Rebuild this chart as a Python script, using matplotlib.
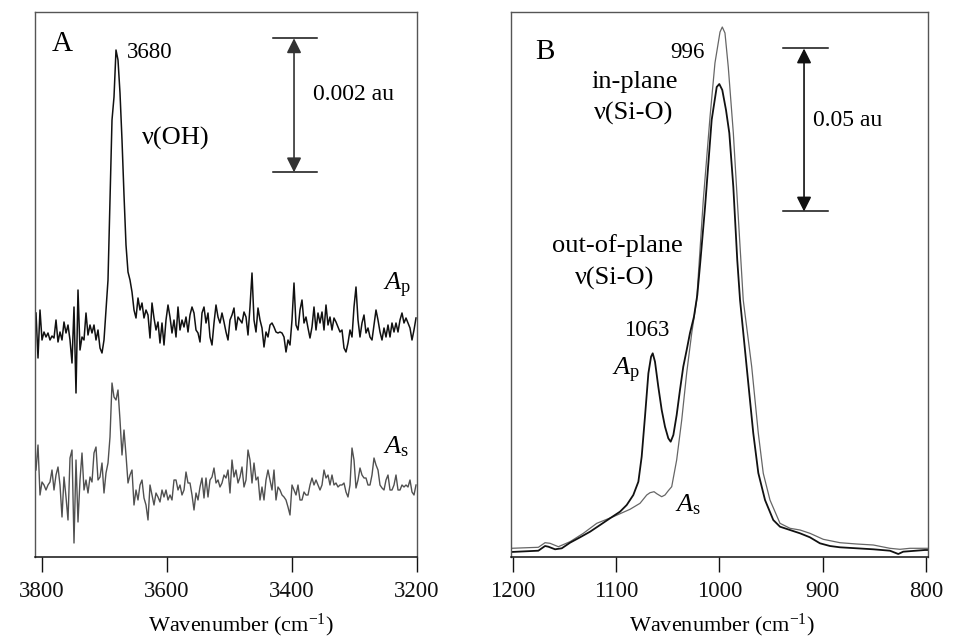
import numpy as np
import matplotlib
matplotlib.use("Agg")
import matplotlib.pyplot as plt

plt.rcParams['font.family'] = ['Liberation Serif', 'DejaVu Serif']
plt.rcParams['mathtext.fontset'] = 'custom'
plt.rcParams['mathtext.rm'] = 'Liberation Serif'
plt.rcParams['mathtext.it'] = 'Liberation Serif:italic'

# ---------------- Panel A : nu(OH) region ----------------
# relative absorbance (1 unit = 0.002/134 au)
AU_PER_UNIT_A = 0.002 / 134
oh_Ap = [244, 199, 247, 217, 225, 220, 224, 217, 221, 219, 237, 215, 225, 217, 235, 224, 232, 217,
         194, 250, 164, 267, 207, 220, 217, 244, 222, 232, 224, 232, 217, 227, 209, 204, 217, 247,
         277, 357, 437, 460, 507, 497, 464, 417, 362, 312, 285, 277, 265, 247, 239, 259, 247, 254,
         239, 247, 242, 219, 254, 239, 227, 235, 214, 234, 212, 237, 252, 240, 224, 237, 220, 250,
         227, 237, 230, 240, 225, 242, 250, 244, 227, 224, 215, 244, 250, 234, 244, 220, 212, 234,
         252, 240, 234, 244, 235, 225, 217, 237, 242, 249, 227, 240, 237, 234, 245, 240, 222, 250,
         284, 237, 225, 249, 237, 229, 210, 225, 220, 232, 234, 230, 225, 224, 225, 224, 220, 205,
         217, 212, 237, 274, 232, 227, 247, 257, 234, 240, 229, 219, 230, 250, 227, 244, 234, 245,
         227, 252, 232, 240, 227, 239, 235, 230, 225, 227, 209, 205, 214, 227, 220, 250, 270, 237,
         220, 234, 242, 224, 229, 220, 217, 232, 247, 237, 225, 217, 229, 220, 232, 220, 234, 225,
         234, 225, 237, 244, 234, 239, 234, 229, 217, 227, 239]
oh_As = [87, 112, 62, 75, 72, 67, 72, 75, 87, 67, 82, 90, 72, 40, 80, 60, 37, 99,
         107, 14, 97, 35, 77, 104, 67, 77, 64, 80, 75, 104, 110, 77, 80, 94, 64, 84,
         94, 120, 174, 160, 157, 167, 137, 102, 127, 102, 74, 82, 87, 52, 67, 57, 72, 77,
         59, 52, 37, 72, 62, 52, 64, 60, 55, 67, 60, 67, 57, 62, 57, 77, 77, 67,
         72, 62, 67, 85, 74, 74, 62, 47, 64, 57, 70, 79, 59, 79, 60, 77, 80, 89,
         74, 77, 70, 74, 82, 79, 87, 64, 97, 80, 87, 74, 80, 90, 70, 77, 107, 97,
         74, 94, 77, 80, 57, 70, 57, 77, 87, 77, 67, 87, 57, 70, 67, 62, 60, 57,
         50, 42, 72, 67, 62, 72, 57, 57, 65, 62, 62, 72, 79, 72, 77, 72, 67, 72,
         87, 79, 82, 72, 82, 72, 74, 70, 72, 72, 74, 65, 60, 72, 109, 97, 69, 77,
         89, 82, 79, 79, 72, 72, 82, 99, 92, 87, 72, 69, 67, 77, 82, 67, 67, 72,
         82, 67, 67, 72, 70, 72, 70, 77, 65, 62, 72]
oh_wn = np.linspace(3809.4, 3201.6, len(oh_Ap))
oh_wn_s = np.linspace(3809.4, 3201.6, len(oh_As))

# ---------------- Panel B : nu(Si-O) region ----------------
AU_PER_UNIT_B = 0.05 / 163
sio_wn_Ap = [1201.9, 1175.5, 1169.0, 1165.8, 1159.3, 1152.8, 1144.8, 1135.1, 1125.4, 1115.7,
             1106.1, 1096.4, 1089.9, 1083.5, 1078.6, 1075.4, 1072.2, 1068.9, 1066.3, 1064.7,
             1062.5, 1059.3, 1056.0, 1052.8, 1049.6, 1047.3, 1044.7, 1041.5, 1038.3, 1035.1,
             1031.6, 1028.6, 1024.8, 1021.5, 1018.6, 1014.0, 1007.6, 1002.7, 1000.2, 997.3,
             993.7, 990.5, 986.6, 982.8, 980.1, 973.7, 967.3, 962.4, 955.9, 947.9,
             941.4, 931.7, 922.0, 912.4, 902.7, 893.0, 883.3, 867.1, 851.0, 834.9,
             826.8, 822.0, 801.0, 798.1]
sio_Ap = [5, 6.3, 11, 10.3, 7.7, 8.7, 14.3, 19.7, 25.3, 32,
          38.7, 45.3, 52, 62, 75.3, 100.3, 140.3, 183.7, 200.3, 203.7,
          195.3, 170.3, 147, 130.3, 118.7, 115.3, 122, 142, 167, 190.3,
          208, 224, 240, 262, 295, 350, 437, 470, 473, 467,
          447, 424, 370, 297, 257, 190.3, 124, 84, 57, 37,
          30.3, 27, 23.7, 19.7, 13.7, 11, 9.7, 8.7, 7.7, 6.3,
          3, 5.3, 7, 7]
sio_wn_As = [1201.9, 1175.5, 1169.0, 1164.2, 1156.1, 1144.8, 1131.9, 1118.9, 1102.9, 1086.7,
             1077.0, 1070.5, 1067.3, 1063.4, 1060.8, 1056.0, 1052.8, 1049.6, 1046.3, 1041.5,
             1036.6, 1031.8, 1026.9, 1022.1, 1015.7, 1009.2, 1004.4, 999.5, 997.3, 994.7,
             991.5, 986.6, 981.8, 977.0, 968.8, 962.4, 957.6, 951.1, 941.4, 931.7,
             922.0, 912.4, 899.5, 883.3, 867.1, 851.0, 834.9, 825.2, 815.5, 801.0, 798.1]
sio_As = [8.7, 9.7, 14.3, 13.7, 10.3, 15.3, 23.7, 33.7, 40.3, 47.7,
          53.7, 62, 64.3, 65.3, 63.3, 60.3, 62, 66.3, 70.3, 97,
          137, 184, 224, 257, 357, 440, 494, 525, 530, 524,
          490, 424, 340, 257, 190.3, 123.7, 83.7, 57, 33.7, 28.7,
          27, 23.7, 17.7, 14.3, 13, 12, 8.7, 7.7, 8.7, 8.7, 8.7]

ticks_A = [3800, 3600, 3400, 3200]
ticks_B = [1200, 1100, 1000, 900, 800]

W, H = 955, 639
fig = plt.figure(figsize=(W / 100, H / 100), dpi=100)
axA = fig.add_axes([35 / W, 1 - 557 / H, 382 / W, 545 / H])
axB = fig.add_axes([511 / W, 1 - 557 / H, 417 / W, 545 / H])

for ax in (axA, axB):
    for side in ('top', 'left', 'right'):
        ax.spines[side].set_color('#555555')
        ax.spines[side].set_linewidth(1.0)
    ax.spines['bottom'].set_color('#111111')
    ax.spines['bottom'].set_linewidth(1.1)
    ax.set_yticks([])
    ax.tick_params(axis='x', direction='out', length=11, width=1.0, pad=6,
                   labelsize=16.5, colors='#111111')

kA = AU_PER_UNIT_A
kB = AU_PER_UNIT_B

# ---- Panel A ----
axA.plot(oh_wn, np.array(oh_Ap) * kA, color='#111111', lw=1.1)
axA.plot(oh_wn_s, np.array(oh_As) * kA, color='#505050', lw=1.0)
axA.set_xlim(3811, 3200)
axA.set_ylim(0, 545 * kA)
axA.set_xticks(ticks_A)

axA.text(0.0707, 0.941, 'A', transform=axA.transAxes, fontsize=21,
         ha='center', va='center')
axA.text(3663.8, 504 * kA, '3680', fontsize=16.5, ha='left', va='center')
axA.text(3639.9, 419 * kA, 'ν(OH)', fontsize=19, ha='left', va='center')
axA.plot([3430.3, 3359.9], [518.7 * kA] * 2, color='#111111', lw=1.1)
axA.plot([3430.3, 3359.9], [384.7 * kA] * 2, color='#111111', lw=1.1)
axA.annotate('', xy=(3396.7, 518.7 * kA), xytext=(3396.7, 384.7 * kA),
             arrowprops=dict(arrowstyle='<|-|>', color='#333333', lw=1.2,
                             mutation_scale=22, shrinkA=0, shrinkB=0))
axA.text(3366.3, 462 * kA, '0.002 au', fontsize=17, ha='left', va='center')
axA.text(3254.4, 272 * kA, r'$A_{\mathrm{p}}$', fontsize=19, ha='left', va='center')
axA.text(3254.4, 110 * kA, r'$A_{\mathrm{s}}$', fontsize=19, ha='left', va='center')

# ---- Panel B ----
axB.plot(sio_wn_As, np.array(sio_As) * kB, color='#666666', lw=0.9)
axB.plot(sio_wn_Ap, np.array(sio_Ap) * kB, color='#111111', lw=1.3)
axB.set_xlim(1202, 798)
axB.set_ylim(0, 545 * kB)
axB.set_xticks(ticks_B)

axB.text(0.0815, 0.9266, 'B', transform=axB.transAxes, fontsize=21,
         ha='center', va='center')
axB.text(1014.1, 504 * kB, '996', fontsize=16.5, ha='right', va='center')
axB.text(1082.4, 475 * kB, 'in-plane', fontsize=19, ha='center', va='center')
axB.text(1083.3, 444 * kB, 'ν(Si-O)', fontsize=19, ha='center', va='center')
axB.text(1099.3, 311 * kB, 'out-of-plane', fontsize=19, ha='center', va='center')
axB.text(1101.2, 279 * kB, 'ν(Si-O)', fontsize=19, ha='center', va='center')
axB.text(1070.2, 226 * kB, '1063', fontsize=16.5, ha='center', va='center')
axB.text(1104.2, 187 * kB, r'$A_{\mathrm{p}}$', fontsize=19, ha='left', va='center')
axB.text(1043.1, 52 * kB, r'$A_{\mathrm{s}}$', fontsize=19, ha='left', va='center')
axB.plot([938.5, 894.9], [508.5 * kB] * 2, color='#111111', lw=1.1)
axB.plot([938.5, 894.9], [345.5 * kB] * 2, color='#111111', lw=1.1)
axB.annotate('', xy=(918.1, 508.5 * kB), xytext=(918.1, 345.5 * kB),
             arrowprops=dict(arrowstyle='<|-|>', color='#111111', lw=1.2,
                             mutation_scale=22, shrinkA=0, shrinkB=0))
axB.text(909.4, 436 * kB, '0.05 au', fontsize=17, ha='left', va='center')

fig.text(241 / W, 1 - 631 / H, r'Wavenumber (cm$^{\mathrm{-1}}$)', fontsize=16,
         ha='center', va='baseline')
fig.text(722 / W, 1 - 631 / H, r'Wavenumber (cm$^{\mathrm{-1}}$)', fontsize=16,
         ha='center', va='baseline')

fig.savefig('out.png', dpi=100)
